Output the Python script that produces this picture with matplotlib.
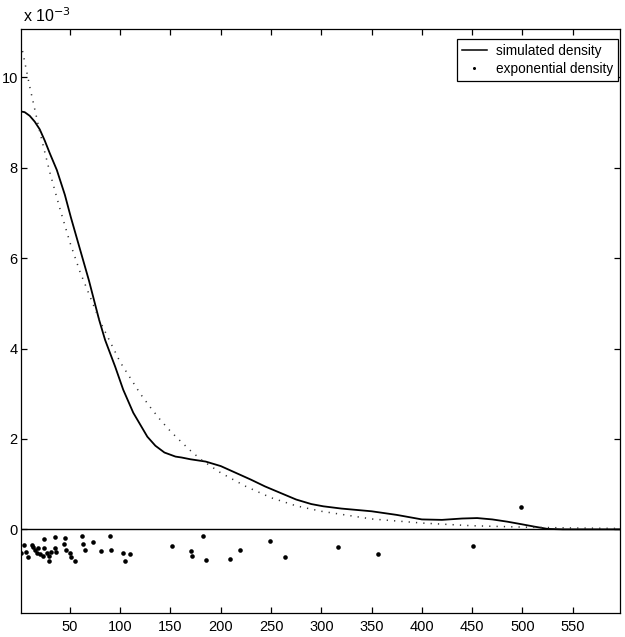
import matplotlib.pyplot as plt
from matplotlib.lines import Line2D

plt.rcParams['font.family'] = ['Liberation Sans', 'DejaVu Sans']

# simulated density (units of 1e-3)
sim_x = [0, 5, 10, 15, 20, 25, 30, 37, 45, 51, 60, 69, 79, 85, 95, 103, 113, 127, 135,
         144, 155, 161, 170, 185, 200, 214, 230, 244, 260, 275, 290, 302, 320, 350,
         375, 400, 420, 440, 455, 470, 485, 500, 512, 525, 540, 570, 597]
sim_y = [9.25, 9.23, 9.15, 9.02, 8.85, 8.6, 8.32, 7.95, 7.4, 6.9, 6.2, 5.5, 4.64, 4.19,
         3.6, 3.09, 2.58, 2.05, 1.85, 1.7, 1.61, 1.59, 1.55, 1.5, 1.4, 1.26, 1.1, 0.95,
         0.8, 0.66, 0.56, 0.51, 0.46, 0.4, 0.32, 0.22, 0.21, 0.24, 0.25, 0.22, 0.17,
         0.11, 0.06, 0.01, 0.0, 0.0, 0.0]

# exponential density (units of 1e-3)
exp_x = [0, 10, 20, 30, 40, 50, 60, 70, 80, 90, 100, 110, 120, 130, 140, 150, 160,
         170, 180, 190, 200, 225, 250, 275, 300, 350, 400, 450, 500, 550, 597]
exp_y = [10.9, 9.8, 8.8, 7.9, 7.1, 6.35, 5.7, 5.15, 4.6, 4.15, 3.7, 3.35, 3.0, 2.7,
         2.42, 2.17, 1.95, 1.74, 1.55, 1.4, 1.25, 0.95, 0.7, 0.52, 0.4, 0.23, 0.14,
         0.08, 0.05, 0.03, 0.02]

# observations, plotted below the axis
obs_x = [1.7, 4.0, 5.9, 7.9, 11.9, 13.3, 14.9, 16.8, 18.0, 19.8, 24.0, 23.8, 23.2,
         27.1, 29.7, 29.7, 31.4, 34.7, 35.3, 35.8, 44.0, 45.0, 46.5, 50.5, 51.2, 55.3,
         62.1, 63.4, 64.8, 72.7, 80.9, 90.1, 90.8, 103.2, 105.0, 109.9, 151.2, 170.8,
         171.3, 182.2, 185.5, 209.1, 218.7, 248.7, 264.1, 316.8, 356.4, 450.5, 499.0]
obs_y = [-0.53, -0.35, -0.49, -0.62, -0.34, -0.38, -0.45, -0.53, -0.42, -0.55, -0.22,
         -0.42, -0.58, -0.53, -0.60, -0.71, -0.51, -0.42, -0.18, -0.51, -0.33, -0.19,
         -0.45, -0.53, -0.62, -0.71, -0.14, -0.33, -0.45, -0.27, -0.48, -0.14, -0.45,
         -0.53, -0.70, -0.55, -0.36, -0.48, -0.59, -0.15, -0.67, -0.65, -0.46, -0.25,
         -0.62, -0.40, -0.54, -0.37, 0.49]

xticks = [50, 100, 150, 200, 250, 300, 350, 400, 450, 500, 550]
yticks = [0, 2, 4, 6, 8, 10]

fig = plt.figure(figsize=(6.25, 6.37), dpi=100)
ax = fig.add_axes([0.033, 0.0377, 0.959, 0.9168])

ax.plot(sim_x, sim_y, color='k', lw=1.3)
ax.plot(exp_x, exp_y, color='#333333', lw=1.1, dashes=(0.8, 4))
ax.plot(obs_x, obs_y, ls='none', marker='o', ms=3.3, mew=0, color='k')
ax.axhline(0, color='k', lw=1.0)

ax.set_xlim(1, 597)
ax.set_ylim(-1.85, 11.07)
ax.set_xticks(xticks)
ax.set_yticks(yticks)
ax.tick_params(direction='in', length=4.5, width=0.9, labelsize=10.5,
               top=True, right=True)
ax.tick_params(axis='x', pad=5)
ax.tick_params(axis='y', pad=2)
for s in ax.spines.values():
    s.set_linewidth(0.9)

ax.text(0.004, 1.006, r'x 10$^{-3}$', transform=ax.transAxes, fontsize=11.5,
        ha='left', va='bottom')

handles = [Line2D([], [], color='k', lw=1.1),
           Line2D([], [], ls='none', marker='o', ms=2.2, mew=0, color='k')]
leg = ax.legend(handles, ['simulated density', 'exponential density'],
                loc='upper right', bbox_to_anchor=(0.9967, 0.983), borderaxespad=0,
                fontsize=9.8, handlelength=1.8, handletextpad=0.7, labelspacing=0.3,
                borderpad=0.35, fancybox=False, framealpha=1, edgecolor='k')
leg.get_frame().set_linewidth(0.9)

fig.savefig('out.png', dpi=100)
